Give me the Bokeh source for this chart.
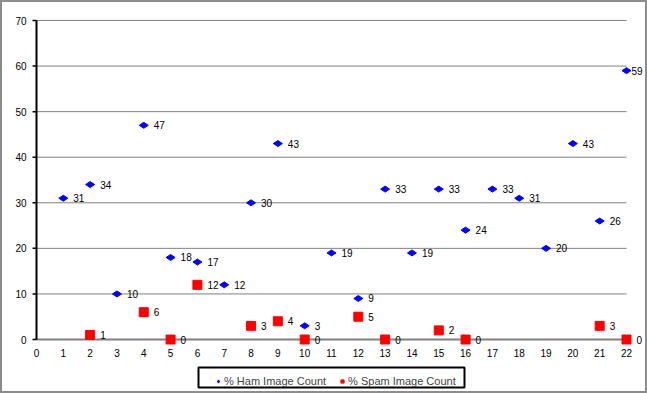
from bokeh.plotting import figure
from bokeh.models import ColumnDataSource, LabelSet, Legend, LegendItem, Range1d, BoxAnnotation
from bokeh.embed import file_html
from bokeh.resources import INLINE
from bokeh.core.properties import value

# ---- data ----
ham_x = list(range(1, 23))
ham_y = [31, 34, 10, 47, 18, 17, 12, 30, 43, 3, 19, 9, 33, 19, 33, 24, 33, 31, 20, 43, 26, 59]
spam_x = [2, 4, 5, 6, 8, 9, 10, 12, 13, 15, 16, 21, 22]
spam_y = [1, 6, 0, 12, 3, 4, 0, 5, 0, 2, 0, 3, 0]
x_ticks = list(range(0, 23))
y_ticks = [0, 10, 20, 30, 40, 50, 60, 70]
series_names = ["% Ham Image Count", "% Spam Image Count"]

FONT = "Liberation Sans"
X_MAX = x_ticks[-1]
Y_MAX = y_ticks[-1]

# ---- geometry (canvas px, canvas sits 2px inside the page border) ----
W, H = 647, 393
X0_PX, X22_PX = 34, 624     # screen x of x=0 and x=22
Y70_PX, Y0_PX = 18, 337     # screen y of y=70 and y=0
ppx = (X22_PX - X0_PX) / X_MAX
ppy = (Y0_PX - Y70_PX) / Y_MAX
x_start = -X0_PX / ppx
x_end = X_MAX + (W - X22_PX) / ppx
y_end = Y_MAX + Y70_PX / ppy
y_start = -(H - Y0_PX) / ppy


def dx(px):
    return x_start + px / ppx


def dy(py):
    return y_end - py / ppy


p = figure(width=W, height=H, output_backend="svg", toolbar_location=None,
           x_range=Range1d(x_start, x_end), y_range=Range1d(y_start, y_end),
           min_border=0, min_border_left=0, min_border_right=0,
           min_border_top=0, min_border_bottom=0)
p.styles = {"border": "2px solid #8c8c8c", "box-sizing": "border-box"}
p.outline_line_color = None
p.background_fill_color = "white"
p.border_fill_color = "white"
p.grid.visible = False
p.axis.visible = False

# gridlines
n = len(y_ticks) - 1
p.segment(x0=[0] * n, x1=[X_MAX] * n, y0=y_ticks[1:], y1=y_ticks[1:],
          line_color="#808080", line_width=1)
p.segment(x0=[0], x1=[X_MAX], y0=[y_ticks[0]], y1=[y_ticks[0]],
          line_color="#808080", line_width=2)

# y axis: line, ticks, labels
p.segment(x0=[0], x1=[0], y0=[y_ticks[0]], y1=[Y_MAX], line_color="black", line_width=2)
tick_len = 4 / ppx
p.segment(x0=[-tick_len] * len(y_ticks), x1=[0] * len(y_ticks), y0=y_ticks, y1=y_ticks,
          line_color="black", line_width=1.5)
yt_src = ColumnDataSource(dict(x=[0] * len(y_ticks), y=y_ticks, t=[str(v) for v in y_ticks]))
p.add_layout(LabelSet(x="x", y="y", text="t", source=yt_src, x_offset=-10,
                      text_align="right", text_baseline="middle", text_font=value(FONT),
                      text_font_size="10px", text_color="black"))

# x tick labels
xt_src = ColumnDataSource(dict(x=x_ticks, y=[0] * len(x_ticks), t=[str(v) for v in x_ticks]))
p.add_layout(LabelSet(x="x", y="y", text="t", source=xt_src, y_offset=-13,
                      text_align="center", text_baseline="middle", text_font=value(FONT),
                      text_font_size="10px", text_color="black"))

# series
ham_off = [10 if x < X_MAX else 5 for x in ham_x]
spam_off = [10 for x in spam_x]
ham_src = ColumnDataSource(dict(x=ham_x, y=ham_y, t=[str(v) for v in ham_y], o=ham_off))
spam_src = ColumnDataSource(dict(x=spam_x, y=spam_y, t=[str(v) for v in spam_y], o=spam_off))

r_ham = p.scatter("x", "y", source=ham_src, marker="diamond", size=9, angle=1.5708,
                  fill_color="#0000FF", line_color="#0000FF")
r_spam = p.scatter("x", "y", source=spam_src, marker="square", size=9,
                   fill_color="#FF0000", line_color="#FF0000")

for src in (ham_src, spam_src):
    p.add_layout(LabelSet(x="x", y="y", text="t", source=src, x_offset="o",
                          text_baseline="middle", text_font=value(FONT),
                          text_font_size="10px", text_color="black"))

# legend box
p.add_layout(BoxAnnotation(left=dx(196), right=dx(462), top=dy(365), bottom=dy(385),
                           fill_color="white", fill_alpha=1, line_color="black",
                           line_width=2, line_alpha=1, level="annotation"))

legend = Legend(items=[LegendItem(label=series_names[0], renderers=[r_ham]),
                       LegendItem(label=series_names[1], renderers=[r_spam])],
                orientation="horizontal", location=(212, H - 385))
legend.border_line_color = None
legend.background_fill_alpha = 0
legend.padding = 4
legend.spacing = 12
legend.margin = 0
legend.label_standoff = 2
legend.glyph_width = 8
legend.glyph_height = 12
legend.label_height = 12
legend.label_text_font = FONT
legend.label_text_font_size = "11px"
legend.label_text_baseline = "middle"
p.add_layout(legend, "center")

open("out.html", "w").write(file_html(p, INLINE))
